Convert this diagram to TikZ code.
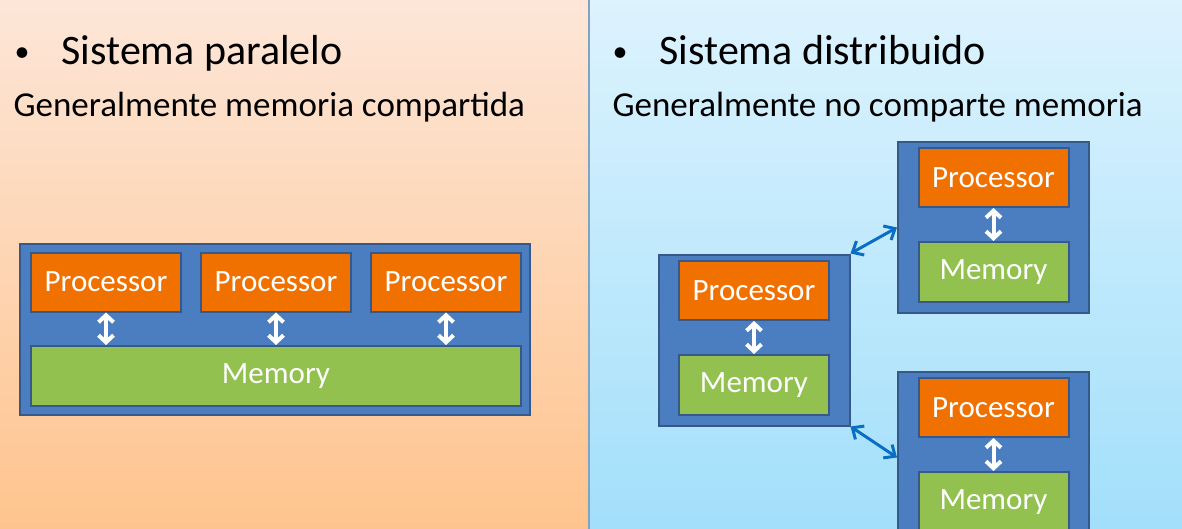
\documentclass[tikz,border=0pt]{standalone}
\usepackage{fontspec}
\setmainfont{Carlito}
\usetikzlibrary{arrows.meta,positioning}

\definecolor{peachtop}{HTML}{FDE6D8}
\definecolor{peachbot}{HTML}{FEC48E}
\definecolor{skytop}{HTML}{DDF3FE}
\definecolor{skybot}{HTML}{A2DFFA}
\definecolor{divider}{HTML}{7FA3C0}
\definecolor{boxblue}{HTML}{4A7EC1}
\definecolor{boxedge}{HTML}{36598A}
\definecolor{procorange}{HTML}{F07100}
\definecolor{memgreen}{HTML}{92C14F}
\definecolor{linkblue}{HTML}{0A6FC4}

\newcommand\headfont{\fontsize{42}{50}\selectfont}
\newcommand\dotfont{\fontsize{30}{36}\selectfont}
\newcommand\notefont{\fontsize{35}{42}\selectfont}
\newcommand\cellfont{\fontsize{31}{37}\selectfont}

\tikzset{
  outerbox/.style={draw=boxedge, fill=boxblue, line width=2pt, inner sep=0pt,
    minimum width=191pt, minimum height=171pt},
  procbox/.style={draw=boxedge, fill=procorange, line width=2pt, inner sep=0pt,
    text=white, font=\cellfont, minimum width=150pt, minimum height=59pt},
  membox/.style={procbox, fill=memgreen, minimum height=60pt},
  busarrow/.style={white, line width=4pt,
    {Straight Barb[length=7pt,width=15pt]}-{Straight Barb[length=7pt,width=15pt]}},
  netarrow/.style={linkblue, line width=3pt,
    {Straight Barb[length=9pt,width=16pt]}-{Straight Barb[length=9pt,width=16pt]}},
}

\begin{document}
\begin{tikzpicture}[x=1pt, y=-1pt]
    \useasboundingbox (0,0) rectangle (1182,529);
    \clip (0,0) rectangle (1182,529);
    % backgrounds
    \shade[top color=peachtop, bottom color=peachbot] (0,0) rectangle (589,529);
    \shade[top color=skytop, bottom color=skybot] (589,0) rectangle (1182,529);
    \draw[divider, line width=1.5pt] (589,0) -- (589,529);

    % left: shared memory
    \node[anchor=base west] (bulletL) at (11,62) {\dotfont •};
    \node[anchor=base west] (titleL) at (58,65) {\headfont Sistema paralelo};
    \node[anchor=base west] (noteL) at (10,117) {\notefont Generalmente memoria compartida};

    \node[outerbox, minimum width=510pt] (shared) at (275,329.5) {};
    \node[procbox] (p1) at (106,282) {Processor};
    \node[procbox] (p2) at (276,282) {Processor};
    \node[procbox] (p3) at (446,282) {Processor};
    \node[membox, minimum width=490pt] (mem) at (276,376) {Memory};
    \draw[busarrow] (p1.south) -- (p1.south |- mem.north);
    \draw[busarrow] (p2.south) -- (p2.south |- mem.north);
    \draw[busarrow] (p3.south) -- (p3.south |- mem.north);

    % right: distributed
    \node[anchor=base west] (bulletR) at (609,62) {\dotfont •};
    \node[anchor=base west] (titleR) at (656,65) {\headfont Sistema distribuido};
    \node[anchor=base west] (noteR) at (609,117) {\notefont Generalmente no comparte memoria};

    \node[outerbox] (nodeA) at (993.5,227.5) {};
    \node[procbox] (procA) at (993.5,177.5) {Processor};
    \node[membox, below=33pt of procA] (memA) {Memory};
    \draw[busarrow] (procA) -- (memA);

    \node[outerbox] (nodeB) at (754,340) {};
    \node[procbox] (procB) at (754,290.5) {Processor};
    \node[membox, below=33pt of procB] (memB) {Memory};
    \draw[busarrow] (procB) -- (memB);

    \node[outerbox] (nodeC) at (993.5,457.5) {};
    \node[procbox] (procC) at (993.5,407.5) {Processor};
    \node[membox, below=33pt of procC] (memC) {Memory};
    \draw[busarrow] (procC) -- (memC);

    \draw[netarrow] (nodeB.north east) -- (nodeA.west);
    \draw[netarrow] (nodeB.south east) -- (nodeC.west);
\end{tikzpicture}
\end{document}
